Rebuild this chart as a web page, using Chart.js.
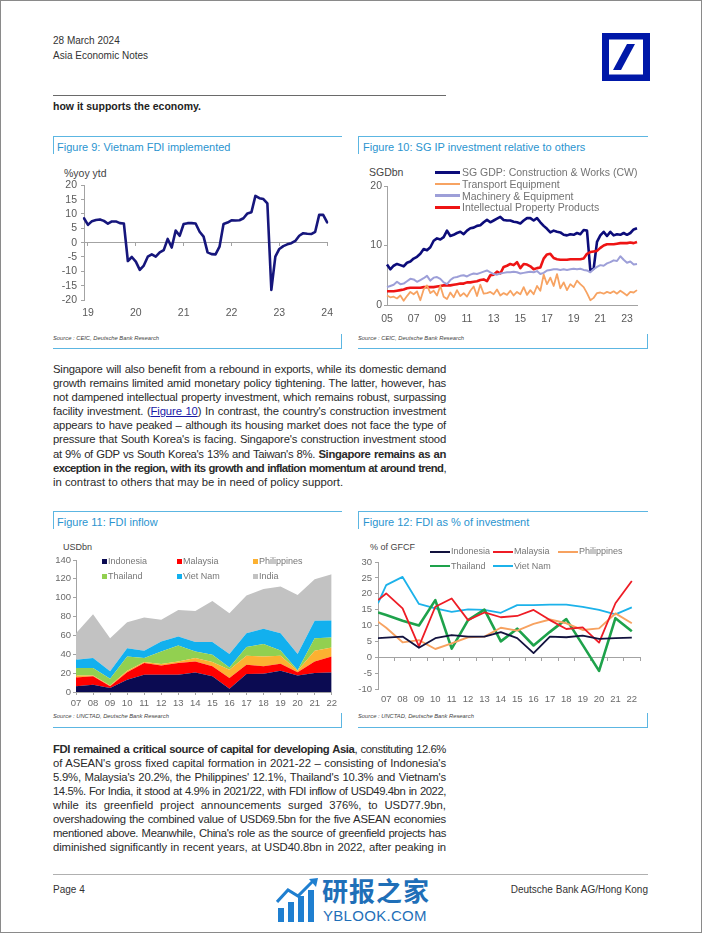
<!DOCTYPE html>
<html><head><meta charset="utf-8">
<script src="https://cdn.jsdelivr.net/npm/chart.js@4.4.1/dist/chart.umd.min.js"></script>
<style>
html,body{margin:0;padding:0;background:#fff;}
body{width:702px;height:935px;position:relative;overflow:hidden;font-family:'Liberation Sans',Arial,sans-serif;color:#222;}
.abs{position:absolute;white-space:nowrap;}
.frame{position:absolute;left:0;top:0;width:700px;height:931px;border:1px solid #8a8a8a;}
.hdr{font-size:10px;color:#333;line-height:12px;}
.ttl{font-size:11px;color:#2a94cf;line-height:13px;}
.src{font-size:5.8px;font-style:italic;color:#444;line-height:7px;}
.hl{position:absolute;background:#5cb6e2;}
.para{position:absolute;left:53px;width:393px;font-size:11.3px;line-height:14.1px;color:#2a2a2a;}
.para .ln{display:inline-block;white-space:nowrap;}
.lg{position:absolute;white-space:nowrap;font-size:10.5px;color:#737373;line-height:12px;}
.lg9{position:absolute;white-space:nowrap;font-size:9px;color:#777;line-height:11px;}
.sw{position:absolute;}
canvas{position:absolute;}
a{color:#1a1aa8;}
</style></head>
<body>
<div class="frame"></div>
<div class="abs hdr" style="left:53px;top:35px;">28 March 2024</div>
<div class="abs hdr" style="left:53px;top:50px;">Asia Economic Notes</div>
<svg class="abs" style="left:602px;top:33px;" width="48" height="48" viewBox="0 0 48 48">
  <rect x="0" y="0" width="48" height="48" fill="#0018a8"/>
  <rect x="7" y="6.5" width="34" height="35" fill="#fff"/>
  <polygon points="11,37 19,37 33,11 25,11" fill="#0018a8"/>
</svg>
<div class="abs" style="left:53px;top:94.5px;width:393px;height:1.5px;background:#6a6a6a;"></div>
<div class="abs" style="left:53px;top:100px;font-size:10.5px;font-weight:bold;color:#222;line-height:13px;">how it supports the economy.</div>

<!-- Figure 9 panel -->
<div class="hl" style="left:53px;top:135.5px;width:289px;height:1.3px;"></div>
<div class="hl" style="left:53px;top:135.5px;width:1.3px;height:18px;"></div>
<div class="abs ttl" style="left:57px;top:140.5px;">Figure 9: Vietnam FDI implemented</div>
<div class="abs" style="left:64px;top:167px;font-size:10.5px;color:#444;line-height:12px;">%yoy ytd</div>
<canvas id="c9" width="290" height="150" style="left:50px;top:175px;"></canvas>
<div class="abs src" style="left:53px;top:334.5px;">Source : CEIC, Deutsche Bank Research</div>
<div class="hl" style="left:53px;top:347.5px;width:289px;height:1.3px;"></div>
<div class="hl" style="left:341px;top:334px;width:1.3px;height:14.5px;"></div>

<!-- Figure 10 panel -->
<div class="hl" style="left:358px;top:135.5px;width:290px;height:1.3px;"></div>
<div class="hl" style="left:358px;top:135.5px;width:1.3px;height:18px;"></div>
<div class="abs ttl" style="left:363px;top:140.5px;">Figure 10: SG IP investment relative to others</div>
<div class="abs" style="left:369px;top:166px;font-size:10.5px;color:#444;line-height:12px;">SGDbn</div>
<canvas id="c10" width="290" height="150" style="left:355px;top:176px;"></canvas>
<div id="leg10"></div>
<div class="abs src" style="left:358px;top:334.5px;">Source : CEIC, Deutsche Bank Research</div>
<div class="hl" style="left:358px;top:347.5px;width:290px;height:1.3px;"></div>
<div class="hl" style="left:646.7px;top:334px;width:1.3px;height:14.5px;"></div>

<!-- Paragraph 1 -->
<div class="para" style="top:362px;">
<span class="ln just">Singapore will also benefit from a rebound in exports, while its domestic demand</span><br>
<span class="ln just">growth remains limited amid monetary policy tightening. The latter, however, has</span><br>
<span class="ln just">not dampened intellectual property investment, which remains robust, surpassing</span><br>
<span class="ln just">facility investment. (<a href="#">Figure 10</a>) In contrast, the country's construction investment</span><br>
<span class="ln just">appears to have peaked – although its housing market does not face the type of</span><br>
<span class="ln just">pressure that South Korea's is facing. Singapore's construction investment stood</span><br>
<span class="ln just">at 9% of GDP vs South Korea's 13% and Taiwan's 8%. <b>Singapore remains as an</b></span><br>
<span class="ln just"><b>exception in the region, with its growth and inflation momentum at around trend</b>,</span><br>
<span class="ln">in contrast to others that may be in need of policy support.</span>
</div>

<!-- Figure 11 panel -->
<div class="hl" style="left:53px;top:511px;width:289px;height:1.3px;"></div>
<div class="hl" style="left:53px;top:511px;width:1.3px;height:18px;"></div>
<div class="abs ttl" style="left:57px;top:516px;">Figure 11: FDI inflow</div>
<div class="abs" style="left:63px;top:542px;font-size:9px;color:#444;line-height:11px;">USDbn</div>
<canvas id="c11" width="295" height="160" style="left:45px;top:550px;"></canvas>
<div id="leg11"></div>
<div class="abs src" style="left:53px;top:713px;">Source : UNCTAD, Deutsche Bank Research</div>
<div class="hl" style="left:53px;top:726.5px;width:289px;height:1.3px;"></div>
<div class="hl" style="left:341px;top:713px;width:1.3px;height:14.5px;"></div>

<!-- Figure 12 panel -->
<div class="hl" style="left:358px;top:511px;width:290px;height:1.3px;"></div>
<div class="hl" style="left:358px;top:511px;width:1.3px;height:18px;"></div>
<div class="abs ttl" style="left:363px;top:516px;">Figure 12: FDI as % of investment</div>
<div class="abs" style="left:370px;top:542px;font-size:9px;color:#444;line-height:11px;">% of GFCF</div>
<canvas id="c12" width="295" height="160" style="left:350px;top:552px;"></canvas>
<div id="leg12"></div>
<div class="abs src" style="left:358px;top:713px;">Source : UNCTAD, Deutsche Bank Research</div>
<div class="hl" style="left:358px;top:726.5px;width:290px;height:1.3px;"></div>
<div class="hl" style="left:646.7px;top:713px;width:1.3px;height:14.5px;"></div>

<!-- Paragraph 2 -->
<div class="para" style="top:741.5px;">
<span class="ln just"><b>FDI remained a critical source of capital for developing Asia</b>, constituting 12.6%</span><br>
<span class="ln just">of ASEAN's gross fixed capital formation in 2021-22 – consisting of Indonesia's</span><br>
<span class="ln just">5.9%, Malaysia's 20.2%, the Philippines' 12.1%, Thailand's 10.3% and Vietnam's</span><br>
<span class="ln just">14.5%. For India, it stood at 4.9% in 2021/22, with FDI inflow of USD49.4bn in 2022,</span><br>
<span class="ln just">while its greenfield project announcements surged 376%, to USD77.9bn,</span><br>
<span class="ln just">overshadowing the combined value of USD69.5bn for the five ASEAN economies</span><br>
<span class="ln just">mentioned above. Meanwhile, China's role as the source of greenfield projects has</span><br>
<span class="ln just">diminished significantly in recent years, at USD40.8bn in 2022, after peaking in</span>
</div>

<!-- Footer -->
<div class="abs" style="left:53px;top:873.5px;width:595px;height:1px;background:#b0b0b0;"></div>
<div class="abs hdr" style="left:53px;top:884px;">Page 4</div>
<div class="abs hdr" style="right:54px;top:884px;">Deutsche Bank AG/Hong Kong</div>
<svg class="abs" style="left:276px;top:878px;" width="44" height="46" viewBox="0 0 44 46">
  <rect x="2" y="30" width="6" height="14" fill="#1f7fd0"/>
  <rect x="12" y="24" width="6" height="20" fill="#1f7fd0"/>
  <rect x="22" y="18" width="6" height="26" fill="#1f7fd0"/>
  <rect x="32" y="12" width="6" height="32" fill="#1f7fd0"/>
  <polyline points="1,24 12,12 22,18 38,2" fill="none" stroke="#1f7fd0" stroke-width="3"/>
  <polygon points="33,1 42,0 40,9" fill="#1f7fd0"/>
</svg>
<div class="abs" style="left:322px;top:874px;font-family:'Noto Sans CJK SC';font-size:26px;font-weight:bold;color:#1f6fb8;line-height:32px;letter-spacing:1px;">研报之家</div>
<div class="abs" style="left:323px;top:907px;font-family:'Liberation Sans';font-size:15px;color:#1f6fb8;line-height:17px;letter-spacing:0.3px;">YBLOOK.COM</div>

<script>
// ---------------- DATA ----------------
// Figure 9: Vietnam FDI implemented, %yoy ytd, monthly (Dec-18 .. Jan-24)
const vnYearTicks = ['19','20','21','22','23','24'];
const vnFdi = [8.5,6.2,7.5,7.9,8.1,7.6,6.6,7.4,7.4,6.8,6.7,-6.4,-5.0,-6.6,-9.5,-8.0,-4.9,-4.1,-4.9,-3.4,
  -2.6,1.3,-1.7,4.2,2.4,6.5,6.8,6.8,6.7,3.8,2.1,-3.4,-4.0,-4.1,-1.4,6.5,7.0,7.8,7.7,7.8,
  8.5,10.2,10.6,16.3,15.5,15.2,13.7,-16.5,-4.9,-2.2,-1.2,-0.6,-0.2,0.6,2.4,3.3,3.1,3.0,3.8,9.7,
  9.7,7.1];
const monthNames = ['Jan','Feb','Mar','Apr','May','Jun','Jul','Aug','Sep','Oct','Nov','Dec'];
const vnMonths = vnFdi.map((_, k) => monthNames[(11 + k) % 12] + '-' + (18 + Math.floor((11 + k) / 12)));

// Figure 10: SG investment, SGDbn, quarterly 2005Q1 .. 2023Q4
const sgYearTicks = ['05','07','09','11','13','15','17','19','21','23'];
const sgNames = ['SG GDP: Construction & Works (CW)','Transport Equipment','Machinery & Equipment','Intellectual Property Products'];
const sgConstruction = [6.8,6.0,6.6,6.9,6.7,6.5,7.1,7.3,7.8,8.1, 8.6,9.4,9.2,9.7,10.8,11.2,11.0,11.4,12.5,11.6,
  11.8,12.1,12.3,11.9,12.5,12.9,13.0,13.3,13.4,13.9, 14.3,13.9,14.2,14.5,14.8,14.3,14.2,14.2,14.0,13.9,
  13.7,14.2,14.6,14.6,14.2,14.6,13.9,13.3,12.8,12.2, 12.5,12.3,12.2,11.8,11.7,11.9,11.8,12.1,11.9,12.6,
  12.5,5.8,6.1,10.6,11.7,12.3,11.6,12.3,11.7,11.9, 11.8,12.1,11.8,12.1,12.7,12.9];
const sgTransport = [1.6,1.3,1.4,1.1,1.6,0.7,1.5,2.2,1.8,2.3, 0.8,2.6,3.3,2.0,2.4,1.6,3.2,1.4,1.0,2.1,
  1.3,2.5,1.5,2.0,1.4,2.4,3.1,1.5,3.4,1.9, 2.0,2.2,1.8,2.6,1.6,2.0,1.7,2.4,1.6,2.2,
  1.8,3.0,1.7,2.5,1.8,3.2,2.4,5.1,3.5,4.6, 3.2,5.2,2.8,3.8,2.5,3.5,3.0,4.1,3.5,3.0,
  2.0,0.8,1.2,2.0,2.1,1.9,2.2,2.0,2.3,1.9, 2.4,2.0,1.6,2.2,2.1,2.5];
const sgMachinery = [3.0,3.2,3.4,3.9,3.5,3.6,4.0,4.4,4.3,3.9, 4.2,4.5,4.9,4.1,4.6,4.7,4.4,3.8,3.5,4.2,
  4.6,4.7,4.9,5.0,4.8,5.1,5.3,5.2,5.4,5.6, 5.8,5.5,5.2,5.1,5.3,5.4,5.5,5.5,5.6,5.5,
  5.3,5.4,5.5,5.6,5.5,5.7,5.2,5.4,5.8,5.9, 6.0,6.0,5.9,6.0,5.9,6.0,6.1,6.0,6.1,5.9,
  5.8,5.5,6.0,6.4,6.7,6.6,7.0,7.2,7.5,7.4, 8.2,7.6,7.1,7.3,6.8,6.9];
const sgIPP = [2.3,2.3,2.3,2.4,2.5,2.6,2.8,2.9,2.9,2.9, 2.9,3.0,3.0,3.0,3.0,3.1,3.2,3.3,3.3,3.3,
  3.4,3.5,3.6,3.6,3.8,3.8,3.9,4.0,4.2,4.3, 4.0,5.0,5.1,5.6,5.3,6.4,6.6,6.9,6.7,7.2,
  6.2,6.9,6.8,6.5,6.0,6.2,6.3,7.8,8.5,8.6, 7.9,7.7,7.6,7.6,7.6,7.7,7.7,7.7,7.7,7.8,
  8.6,8.9,9.0,9.1,9.6,10.0,10.2,10.2,10.2,10.3, 10.4,10.4,10.4,10.5,10.4,10.6];
const sgQuarters = sgConstruction.map((_, k) => 'Q' + (k % 4 + 1) + '-' + String(5 + Math.floor(k / 4)).padStart(2, '0'));

// Figure 11: FDI inflow, USDbn, 2007 .. 2022
const fdiYears = ['07','08','09','10','11','12','13','14','15','16','17','18','19','20','21','22'];
const fdiNames = ['Indonesia','Malaysia','Philippines','Thailand','Viet Nam','India'];
const fdiIndonesia  = [6.0,7.8,4.2,13.0,18.3,18.3,18.3,20.8,16.6,3.5,19.0,19.4,22.6,17.6,20.1,20.8];
const fdiMalaysia   = [9.5,8.8,1.8,8.0,12.4,9.9,12.4,11.6,10.6,11.3,9.9,7.8,7.4,3.4,12.3,16.9];
const fdiPhilippines= [2.1,1.0,1.0,1.5,1.0,1.4,1.7,3.6,4.5,8.8,9.5,10.5,8.4,1.5,11.3,9.5];
const fdiThailand   = [7.8,7.8,7.0,15.2,4.3,13.4,17.0,7.0,7.8,2.5,9.2,13.1,5.6,0.5,13.4,10.6];
const fdiVietNam    = [8.8,10.6,7.9,8.8,7.7,10.6,9.5,9.9,13.4,14.1,14.8,16.2,18.4,17.2,18.4,18.0];
const fdiIndia      = [28.2,46.5,35.1,27.5,35.3,22.9,28.2,33.1,43.7,43.4,39.9,42.3,49.4,62.8,44.0,49.0];

// Figure 12: FDI as % of GFCF (first point sits at the left edge of the 2007 slot)
const gfcfX = [2006.5,2007,2008,2009,2010,2011,2012,2013,2014,2015,2016,2017,2018,2019,2020,2021,2022];
const gfcfYearTicks = [2007,2008,2009,2010,2011,2012,2013,2014,2015,2016,2017,2018,2019,2020,2021,2022];
const gfcfNames = ['Indonesia','Malaysia','Philippines','Thailand','Viet Nam'];
const gfcfIndonesia  = [6.0,6.2,6.5,3.0,6.0,7.0,6.5,6.5,7.9,6.0,1.3,6.5,6.3,6.8,5.8,6.0,6.2];
const gfcfMalaysia   = [18.0,20.1,15.4,3.4,15.9,18.5,11.7,14.1,12.6,13.0,14.9,11.7,8.9,9.4,4.6,17.0,24.0];
const gfcfPhilippines= [11.2,9.3,4.7,5.4,2.6,4.4,6.3,6.5,9.3,8.4,10.5,11.9,10.7,8.6,9.1,13.8,10.7];
const gfcfThailand   = [14.1,13.3,11.5,10.0,18.0,2.7,11.7,15.0,5.0,9.0,3.7,8.0,12.0,3.9,-4.3,12.3,8.2];
const gfcfVietNam    = [17.0,22.7,25.3,16.8,15.4,14.3,15.1,14.9,14.0,16.4,16.4,16.6,16.6,15.9,14.9,13.5,15.7];

// ---------------- CHARTS ----------------
Chart.defaults.font.family = "'Liberation Sans', Arial, sans-serif";
const AX = '#a3a3a3';
const base = () => ({animation:false, responsive:false, devicePixelRatio:1, events:[],
  plugins:{legend:{display:false}, tooltip:{enabled:false}}});

// Fig 9
{
  const o = base();
  o.layout = {padding:{top:10, right:12, left:0, bottom:0}};
  o.scales = {
    y:{min:-20, max:20, ticks:{stepSize:5, autoSkip:false, color:'#5a5a5a', font:{size:10.5}, padding:4},
       grid:{drawOnChartArea:false, drawTicks:true, tickLength:3, color:AX}, border:{color:AX},
       afterFit(s){ s.width = 34; }},
    x:{type:'category', position:{y:0}, ticks:{display:false, autoSkip:false},
       grid:{drawOnChartArea:false, drawTicks:true, tickLength:3,
             color:(c)=> (c.index % 12 === 1) ? AX : 'rgba(0,0,0,0)'},
       border:{color:AX}},
    x2:{type:'category', position:'bottom', labels:vnMonths,
       ticks:{autoSkip:false, maxRotation:0, color:'#5a5a5a', font:{size:10.5}, padding:7,
              callback:(v,i)=> (i % 12 === 1) ? vnYearTicks[(i-1)/12] : ''},
       grid:{display:false, drawTicks:false}, border:{display:false},
       afterFit(s){ s.height = 25; }}
  };
  new Chart(document.getElementById('c9'), {type:'line',
    data:{labels:vnMonths, datasets:[{data:vnFdi, xAxisID:'x', yAxisID:'y', borderColor:'#16167c',
      borderWidth:2.6, pointRadius:0, tension:0, borderJoinStyle:'round', borderCapStyle:'round'}]},
    options:o});
}

// Fig 10
{
  const cols = ['#0c0c7a','#f7a362','#9d9fd8','#ee1414'];
  const widths = [2.6,1.8,2.0,2.6];
  const series = [sgConstruction, sgTransport, sgMachinery, sgIPP];
  const o = base();
  o.layout = {padding:{top:10, right:8, left:0, bottom:0}};
  o.scales = {
    y:{min:0, max:20, ticks:{stepSize:10, autoSkip:false, color:'#5a5a5a', font:{size:10.5}, padding:2},
       grid:{drawOnChartArea:false, drawTicks:true, tickLength:3, color:AX}, border:{color:AX},
       afterFit(s){ s.width = 32; }},
    x:{type:'category', ticks:{autoSkip:false, maxRotation:0, color:'#5a5a5a', font:{size:10.5}, padding:8,
              callback:(v,i)=> (i % 8 === 0) ? sgYearTicks[i/8] : ''},
       grid:{display:false, drawTicks:false}, border:{color:AX},
       afterFit(s){ s.height = 21; }}
  };
  // draw order: orange, lavender, red, navy on top
  const order = [1,2,3,0];
  new Chart(document.getElementById('c10'), {type:'line',
    data:{labels:sgQuarters, datasets: order.map(i=>({label:sgNames[i], data:series[i], borderColor:cols[i],
      borderWidth:widths[i], pointRadius:0, tension:0, borderJoinStyle:'round'}))},
    options:o});
  const leg = document.getElementById('leg10');
  const rows = [172.3,183.8,195.6,207.3];
  sgNames.forEach((n,i)=>{
    leg.insertAdjacentHTML('beforeend',
      `<div class="sw" style="left:435px;top:${rows[i]-widths[i]/2-0.3}px;width:25px;height:${widths[i]+0.6}px;background:${cols[i]};"></div>`+
      `<div class="lg" style="left:462px;top:${rows[i]-6}px;">${n.replace('&','&amp;')}</div>`);
  });
}

// Fig 11
{
  const cols = ['#0b0b52','#ff0000','#fcb131','#92d050','#12b0ee','#c2c2c2'];
  const series = [fdiIndonesia, fdiMalaysia, fdiPhilippines, fdiThailand, fdiVietNam, fdiIndia];
  const o = base();
  o.layout = {padding:{top:10, right:7, left:0, bottom:0}};
  o.scales = {
    y:{stacked:true, min:0, max:140, ticks:{stepSize:20, autoSkip:false, color:'#6a6a6a', font:{size:9.5}, padding:2},
       grid:{drawOnChartArea:false, drawTicks:true, tickLength:3, color:AX}, border:{color:AX},
       afterFit(s){ s.width = 31; }},
    x:{type:'category', ticks:{autoSkip:false, maxRotation:0, color:'#6a6a6a', font:{size:9.5}, padding:3},
       grid:{drawOnChartArea:false, drawTicks:true, tickLength:3, color:AX}, border:{color:AX},
       afterFit(s){ s.height = 18; }}
  };
  new Chart(document.getElementById('c11'), {type:'line',
    data:{labels:fdiYears, datasets: series.map((d,i)=>({label:fdiNames[i], data:d, backgroundColor:cols[i],
      borderColor:cols[i], borderWidth:0, pointRadius:0, tension:0, fill: i===0 ? 'origin' : '-1'}))},
    options:o});
  const leg = document.getElementById('leg11');
  const xs = [101.5,176.5,252.5], ys = [561.7,576.7];
  fdiNames.forEach((n,i)=>{
    const x = xs[i%3], y = ys[Math.floor(i/3)];
    leg.insertAdjacentHTML('beforeend',
      `<div class="sw" style="left:${x}px;top:${y-2.8}px;width:5.6px;height:5.6px;background:${cols[i]};"></div>`+
      `<div class="lg9" style="left:${x+6.5}px;top:${y-5.5}px;">${n}</div>`);
  });
}

// Fig 12
{
  const cols = ['#12123e','#ee1c25','#f7a260','#1ea24b','#1cb2ea'];
  const widths = [1.8,1.8,1.9,2.6,1.8];
  const series = [gfcfIndonesia, gfcfMalaysia, gfcfPhilippines, gfcfThailand, gfcfVietNam];
  const bounds = gfcfYearTicks.map(y=>y-0.5).concat([gfcfYearTicks[gfcfYearTicks.length-1]+0.5]);
  const o = base();
  o.layout = {padding:{top:10, right:5, left:0, bottom:0}};
  o.scales = {
    y:{min:-10, max:30, ticks:{stepSize:5, autoSkip:false, color:'#6a6a6a', font:{size:9.5}, padding:3},
       grid:{drawOnChartArea:false, drawTicks:true, tickLength:3, color:AX}, border:{color:AX},
       afterFit(s){ s.width = 28; }},
    x:{type:'linear', position:{y:0}, min:2006.5, max:2022.5, ticks:{display:false},
       afterBuildTicks(s){ s.ticks = bounds.map(v=>({value:v})); },
       grid:{drawOnChartArea:false, drawTicks:true, tickLength:3, color:AX}, border:{color:AX}},
    x2:{type:'linear', position:'bottom', min:2006.5, max:2022.5,
       afterBuildTicks(s){ s.ticks = gfcfYearTicks.map(v=>({value:v})); },
       ticks:{autoSkip:false, maxRotation:0, color:'#6a6a6a', font:{size:9.5}, padding:5,
              callback:(v)=> String(v).slice(2)},
       grid:{display:false, drawTicks:false}, border:{display:false},
       afterFit(s){ s.height = 23; }}
  };
  new Chart(document.getElementById('c12'), {type:'line',
    data:{labels:gfcfX, datasets: series.map((d,i)=>({label:gfcfNames[i], data:d, xAxisID:'x', yAxisID:'y',
      borderColor:cols[i], borderWidth:widths[i], pointRadius:0, tension:0, borderJoinStyle:'round'}))},
    options:o});
  const leg = document.getElementById('leg12');
  const pos = [[430,551.7],[493,551.7],[558,551.7],[430,566],[493,566]];
  gfcfNames.forEach((n,i)=>{
    const [x,y] = pos[i];
    leg.insertAdjacentHTML('beforeend',
      `<div class="sw" style="left:${x}px;top:${y-widths[i]/2}px;width:20px;height:${widths[i]}px;background:${cols[i]};"></div>`+
      `<div class="lg9" style="left:${x+21}px;top:${y-5.5}px;">${n}</div>`);
  });
}

// ---------------- justify text lines ----------------
function justify(){
  const W = 393;
  document.querySelectorAll('.just').forEach(el=>{
    el.style.wordSpacing = '0px';
    el.style.letterSpacing = '0px';
    let w = el.getBoundingClientRect().width;
    const n = (el.textContent.match(/ /g) || []).length;
    const chars = el.textContent.length;
    if (w > W - n * 0.6) {
      el.style.letterSpacing = ((W - n * 0.6 - w) / chars) + 'px';
      w = el.getBoundingClientRect().width;
    }
    if (n > 0) el.style.wordSpacing = ((W - w) / n) + 'px';
  });
}
justify();
if (document.fonts && document.fonts.ready) document.fonts.ready.then(justify);
</script>
</body></html>
